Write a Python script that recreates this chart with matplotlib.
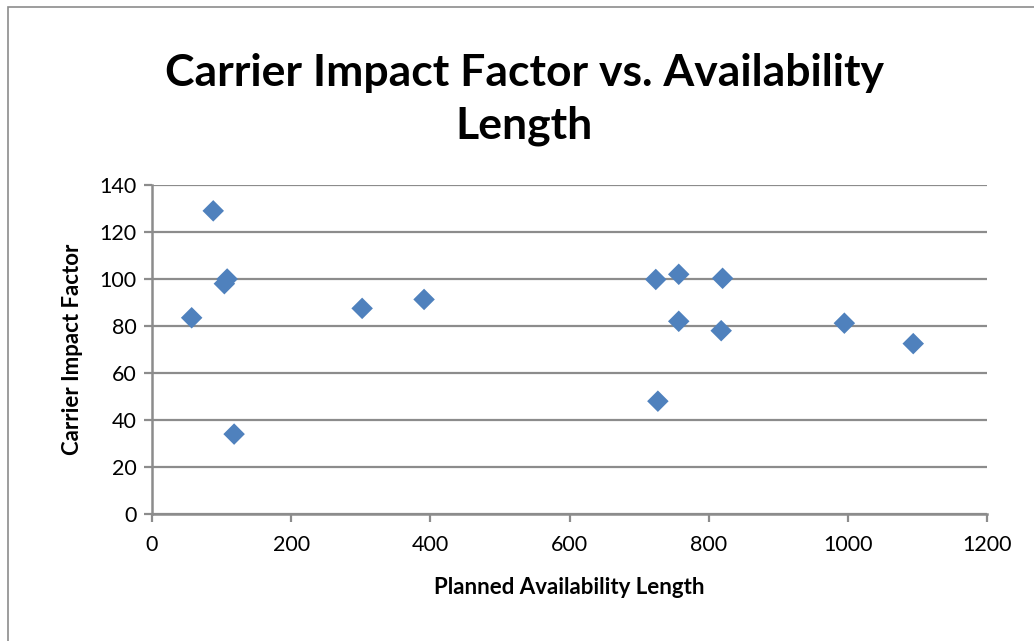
import matplotlib
matplotlib.use("Agg")
import matplotlib.pyplot as plt
from matplotlib.patches import Rectangle

# planned availability length vs carrier impact factor
avail_len = [57, 88, 104, 108, 118, 302, 391, 724, 727, 757, 757, 820, 818, 995, 1094]
impact = [83.5, 129, 98, 100, 34, 87.5, 91.3, 99.8, 48, 102, 82, 100.3, 78, 81.2, 72.5]

BLUE = "#4F81BD"; GRID = "#8C8C8C"; INK = "#000000"
plt.rcParams.update({"font.family": ["Lato", "DejaVu Sans"]})

fig = plt.figure(figsize=(10.34, 6.41), dpi=100)
fig.patches.append(Rectangle((8/1034, -0.01), 1.05, 1 - 7/641 + 0.01, transform=fig.transFigure,
                             fill=False, edgecolor="#8C8C8C", linewidth=1.2))
ax = fig.add_axes([152/1034, 1 - 514/641, (987-152)/1034, (514-185)/641])

ax.scatter(avail_len, impact, marker="D", s=120, color=BLUE, edgecolor="none", zorder=3)

ax.set_xlim(0, 1200); ax.set_ylim(0, 140)
ax.set_xticks(range(0, 1201, 200)); ax.set_yticks(range(0, 141, 20))
ax.grid(axis="y", color=GRID, linewidth=1.6)
ax.set_axisbelow(True)
for s in ["top", "right"]:
    ax.spines[s].set_visible(False)
for s in ["left", "bottom"]:
    ax.spines[s].set_color(GRID); ax.spines[s].set_linewidth(1.8)
ax.tick_params(axis="both", direction="out", length=6, width=1.6, color=GRID,
               labelsize=15.5, labelcolor=INK)
ax.tick_params(axis="x", pad=9)
ax.tick_params(axis="y", pad=5)

ax.set_xlabel("Planned Availability Length", fontsize=16, fontweight="bold", labelpad=16)
ax.set_ylabel("Carrier Impact Factor", fontsize=16, fontweight="bold", labelpad=12)

# title in two lines like the Excel original
fig.text(0.507, 1 - 86/641, "Carrier Impact Factor vs. Availability", ha="center", va="baseline",
         fontsize=32, fontweight="bold")
fig.text(0.507, 1 - 139/641, "Length", ha="center", va="baseline", fontsize=32, fontweight="bold")

fig.savefig("out.png", dpi=100)
